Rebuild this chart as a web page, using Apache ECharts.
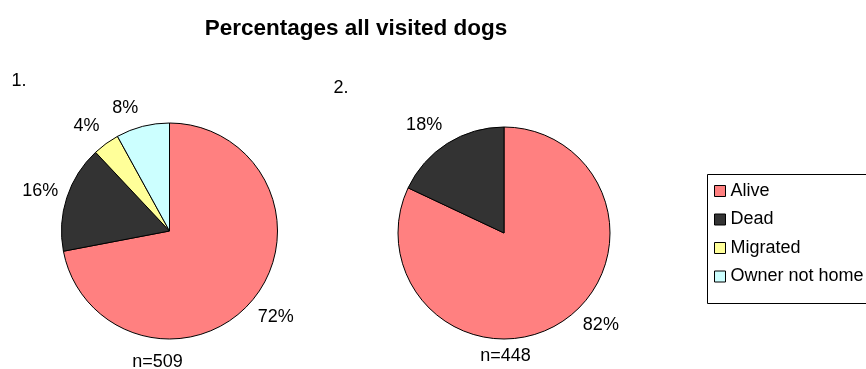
<!DOCTYPE html>
<html>
<head>
<meta charset="utf-8">
<title>Percentages all visited dogs</title>
<script src="https://cdn.jsdelivr.net/npm/echarts@6/dist/echarts.min.js"></script>
<style>
  html, body { margin: 0; padding: 0; background: #fff; }
  #chart { width: 866px; height: 369px; }
</style>
</head>
<body>
<div id="chart"></div>
<script>
// Status of visited dogs, in percent, for the two visits
const categories = ['Alive', 'Dead', 'Migrated', 'Owner not home'];
const visit1Percent = [72, 16, 4, 8];
const visit2Percent = [82, 18];
const sampleSizes = [509, 448];
const panelLabels = ['1.', '2.'];
const chartTitle = 'Percentages all visited dogs';

const colors = {
  'Alive': '#FF8080',
  'Dead': '#333333',
  'Migrated': '#FFFF99',
  'Owner not home': '#CCFFFF'
};

// Small nudges so the percentage labels clear the pie edge nicely
const labelNudge1 = [[0, -2], [2, 3], [-2, 7], [-10, 11]];
const labelNudge2 = [[24, -23], [-7, 7]];

const FONT = '"Liberation Sans", Arial, sans-serif';

function pieData(values) {
  return values.map((v, i) => ({
    name: categories[i],
    value: v,
    itemStyle: { color: colors[categories[i]] }
  }));
}

// Solid pie with black outline
function pieSeries(values, center, radius) {
  return {
    type: 'pie',
    center: center,
    radius: radius,
    startAngle: 90,
    clockwise: true,
    silent: true,
    animation: false,
    label: { show: false },
    labelLine: { show: false },
    emphasis: { disabled: true },
    itemStyle: { borderColor: '#000', borderWidth: 1 },
    data: pieData(values)
  };
}

// Invisible ring whose centred labels sit just outside the pie
function labelRing(values, center, radius, nudges) {
  return {
    type: 'pie',
    center: center,
    radius: [radius + 17, radius + 37],
    startAngle: 90,
    clockwise: true,
    silent: true,
    animation: false,
    emphasis: { disabled: true },
    itemStyle: { color: 'rgba(0,0,0,0)', borderWidth: 0 },
    label: {
      show: true,
      position: 'inside',
      formatter: '{c}%',
      color: '#000',
      fontFamily: FONT,
      fontSize: 18
    },
    labelLine: { show: false },
    data: values.map((v, i) => ({
      name: categories[i],
      value: v,
      label: { offset: nudges[i] }
    }))
  };
}

const pie1 = { center: [169.5, 231], radius: 108 };
const pie2 = { center: [504, 233], radius: 106 };

function text(str, x, y, size, bold) {
  return {
    type: 'text',
    x: x,
    y: y,
    silent: true,
    style: {
      text: str,
      fill: '#000',
      font: (bold ? 'bold ' : '') + size + 'px ' + FONT,
      align: 'center',
      verticalAlign: 'middle'
    }
  };
}

const chart = echarts.init(document.getElementById('chart'));
chart.setOption({
  backgroundColor: '#fff',
  animation: false,
  legend: {
    orient: 'vertical',
    left: 714,
    top: 182,
    padding: 0,
    icon: 'rect',
    itemWidth: 11,
    itemHeight: 11,
    itemGap: 10.5,
    itemTextGap: 4,
    itemStyle: { borderColor: '#000', borderWidth: 1 },
    textStyle: { fontFamily: FONT, fontSize: 18, color: '#000', lineHeight: 18 },
    selectedMode: false,
    data: categories.map(c => ({ name: c, itemStyle: { color: colors[c] } }))
  },
  graphic: [
    text(chartTitle, 356, 29, 22.5, true),
    text(panelLabels[0], 19, 81, 18, false),
    text(panelLabels[1], 341, 88, 18, false),
    text('n=' + sampleSizes[0], 157.5, 362, 18, false),
    text('n=' + sampleSizes[1], 505.5, 356.5, 18, false),
    {
      type: 'rect',
      silent: true,
      shape: { x: 707.5, y: 174.5, width: 200, height: 129 },
      style: { fill: 'none', stroke: '#000', lineWidth: 1 }
    }
  ],
  series: [
    pieSeries(visit1Percent, pie1.center, pie1.radius),
    pieSeries(visit2Percent, pie2.center, pie2.radius),
    labelRing(visit1Percent, pie1.center, pie1.radius, labelNudge1),
    labelRing(visit2Percent, pie2.center, pie2.radius, labelNudge2)
  ]
});
</script>
</body>
</html>
